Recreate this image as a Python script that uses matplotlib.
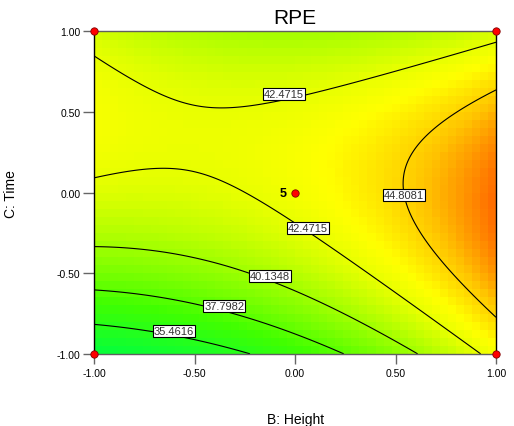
import numpy as np
import matplotlib.pyplot as plt
from matplotlib.colors import LinearSegmentedColormap

plt.rcParams['font.family'] = ['Liberation Sans', 'DejaVu Sans']

# quadratic model of RPE in coded units (B: Height, C: Time)
coef_names = ['b0', 'bB', 'bC', 'bBC', 'bB2', 'bC2']
coef_values = [42.99, 2.49, 1.86, -2.49, 1.61, -4.63]

contour_levels = [35.4616, 37.7982, 40.1348, 42.4715, 44.8081]
# where each contour label sits (coded B, C) and which level it shows
label_levels = [42.4715, 44.8081, 42.4715, 40.1348, 37.7982, 35.4616]
label_b = [-0.055, 0.543, 0.064, -0.124, -0.353, -0.603]
label_c = [0.612, -0.014, -0.219, -0.516, -0.702, -0.857]

# design points
design_b = [-1, 1, -1, 1, 0]
design_c = [-1, -1, 1, 1, 0]
center_runs = 5

tick_vals = [-1.0, -0.5, 0.0, 0.5, 1.0]


def rpe(b, c):
    k = dict(zip(coef_names, coef_values))
    return (k['b0'] + k['bB'] * b + k['bC'] * c + k['bBC'] * b * c
            + k['bB2'] * b ** 2 + k['bC2'] * c ** 2)


cmap = LinearSegmentedColormap.from_list('de', [
    (0.00, (0.00, 1.00, 0.25)),
    (0.28, (0.25, 1.00, 0.00)),
    (0.50, (0.62, 1.00, 0.00)),
    (0.66, (0.90, 1.00, 0.00)),
    (0.74, (1.00, 1.00, 0.00)),
    (0.86, (1.00, 0.78, 0.00)),
    (1.00, (1.00, 0.40, 0.00)),
])

fig = plt.figure(figsize=(5.14, 4.27), dpi=100)
ax = fig.add_axes([0.1835, 0.169, 0.7815, 0.755])

# coarse mosaic like the original
edges_b = np.linspace(-1, 1, 51)
edges_c = np.linspace(-1, 1, 41)
mb = (edges_b[:-1] + edges_b[1:]) / 2
mc = (edges_c[:-1] + edges_c[1:]) / 2
MB, MC = np.meshgrid(mb, mc)
ax.pcolormesh(edges_b, edges_c, rpe(MB, MC), cmap=cmap, vmin=33.0, vmax=47.2,
              shading='flat', zorder=1)

fb = np.linspace(-1, 1, 300)
fc = np.linspace(-1, 1, 300)
FB, FC = np.meshgrid(fb, fc)
ax.contour(FB, FC, rpe(FB, FC), levels=contour_levels, colors='black',
           linewidths=0.8, zorder=2)

for lv, b, c in zip(label_levels, label_b, label_c):
    ax.text(b, c, '%.4f' % lv, fontsize=8, ha='center', va='center', zorder=3,
            color='#333333',
            bbox=dict(boxstyle='square,pad=0.08', fc='white', ec='black', lw=0.8))

ax.scatter(design_b, design_c, s=28, color='red', edgecolors='#800000',
           linewidths=0.6, zorder=5, clip_on=False)
ax.text(-0.04, 0, str(center_runs), fontsize=9, fontweight='bold',
        ha='right', va='center', zorder=5)

ax.set_xlim(-1, 1)
ax.set_ylim(-1, 1)
ax.set_xticks(tick_vals)
ax.set_yticks(tick_vals)
ax.set_xticklabels(['%.2f' % v for v in tick_vals])
ax.set_yticklabels(['%.2f' % v for v in tick_vals])
ax.tick_params(direction='out', length=8, width=1, color='#666666',
               labelsize=7.5, pad=2)
ax.tick_params(axis='x', length=7, pad=3)
for s in ax.spines.values():
    s.set_linewidth(1)
    s.set_color('black')
ax.spines['top'].set_color('#606060')
ax.spines['bottom'].set_color('#606060')

ax.set_title('RPE', fontsize=15, pad=6)
ax.set_xlabel('B: Height', fontsize=10)
ax.set_ylabel('C: Time', fontsize=10)
ax.xaxis.set_label_coords(0.5, -0.18)
ax.yaxis.set_label_coords(-0.19, 0.5)

plt.savefig('out.png', dpi=100)
